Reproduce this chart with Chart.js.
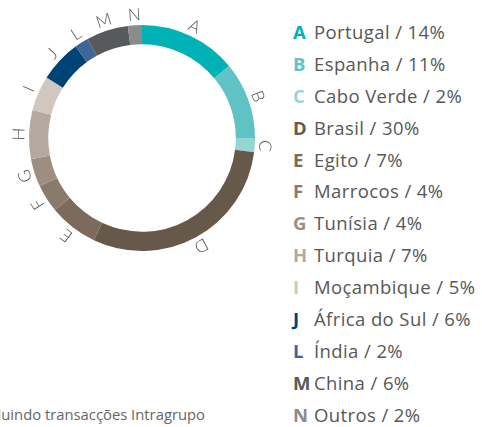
<!DOCTYPE html>
<html>
<head>
<meta charset="utf-8">
<script src="https://cdn.jsdelivr.net/npm/chart.js@4"></script>
<style>
  html, body { margin: 0; padding: 0; background: #fff; }
  body { width: 482px; height: 427px; position: relative; overflow: hidden; font-family: "Open Sans", sans-serif; }
  #wrap { position: absolute; left: 0; top: 0; width: 290px; height: 280px; }
  #legend { position: absolute; left: 293px; top: 16px; margin: 0; padding: 0; list-style: none; }
  #legend li { height: 31.9px; line-height: 31.9px; font-size: 18.5px; letter-spacing: 0.4px; color: #575757; white-space: nowrap; }
  #legend li b { display: inline-block; width: 21px; font-weight: 700; letter-spacing: 0; }
  #note { position: absolute; right: 277px; top: 404px; font-size: 14.8px; color: #666; white-space: nowrap; }
</style>
</head>
<body>
<div id="wrap"><canvas id="donut"></canvas></div>
<ul id="legend"></ul>
<div id="note">*Excluindo transacções Intragrupo</div>
<script>
const letters = ['A', 'B', 'C', 'D', 'E', 'F', 'G', 'H', 'I', 'J', 'L', 'M', 'N'];
const countries = ['Portugal', 'Espanha', 'Cabo Verde', 'Brasil', 'Egito', 'Marrocos', 'Tunísia', 'Turquia', 'Moçambique', 'África do Sul', 'Índia', 'China', 'Outros'];
const shares = [14, 11, 2, 30, 7, 4, 4, 7, 5, 6, 2, 6, 2];
const colors = ['#00b1b5', '#5fc3c6', '#96d5d6', '#675949', '#7c6b5c', '#8a7a6c', '#9d8e81', '#b5a89e', '#d1c7bf', '#004377', '#3e6699', '#58595b', '#8a8b8d'];

// legend built from the arrays
const legend = document.getElementById('legend');
letters.forEach((l, i) => {
    const li = document.createElement('li');
    li.innerHTML = `<b style="color:${colors[i]}">${l}</b>${countries[i]} / ${shares[i]}%`;
    legend.appendChild(li);
});

// letters around the ring, rotated along it
const ringLabels = {
    id: 'ringLabels',
    afterDatasetsDraw(chart) {
        const ctx = chart.ctx;
        const arcs = chart.getDatasetMeta(0).data;
        ctx.save();
        ctx.font = '300 17px Lato, "Open Sans", sans-serif';
        ctx.fillStyle = '#555';
        ctx.textAlign = 'center';
        ctx.textBaseline = 'middle';
        arcs.forEach((arc, i) => {
            const mid = (arc.startAngle + arc.endAngle) / 2;
            const r = arc.outerRadius + 10;
            ctx.save();
            ctx.translate(arc.x + Math.cos(mid) * r, arc.y + Math.sin(mid) * r);
            ctx.rotate(mid + Math.PI / 2);
            ctx.fillText(letters[i], 0, 0);
            ctx.restore();
        });
        ctx.restore();
    }
};

new Chart(document.getElementById('donut'), {
    type: 'doughnut',
    data: {
        labels: countries,
        datasets: [{
            data: shares,
            backgroundColor: colors,
            borderWidth: 0
        }]
    },
    options: {
        responsive: true,
        maintainAspectRatio: false,
        animation: false,
        cutout: '83%',
        layout: { padding: { left: 29, right: 35, top: 25, bottom: 29 } },
        plugins: { legend: { display: false }, tooltip: { enabled: false } }
    },
    plugins: [ringLabels]
});
</script>
</body>
</html>
